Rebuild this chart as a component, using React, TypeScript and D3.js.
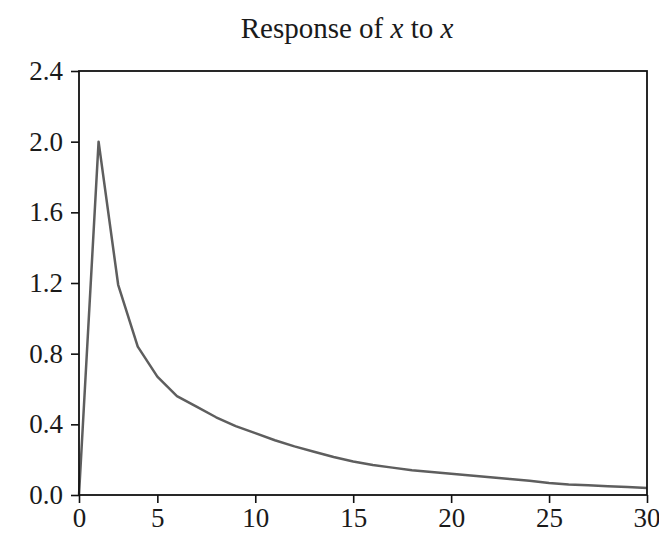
import React, { useEffect, useRef } from "react";
import * as d3 from "d3";

// response of x to x, periods 0..29
const periods = d3.range(30);
const response = [
  0, 2.0, 1.19, 0.84, 0.67, 0.56, 0.5, 0.44, 0.39, 0.35, 0.31, 0.275, 0.245,
  0.215, 0.19, 0.17, 0.155, 0.14, 0.13, 0.12, 0.11, 0.1, 0.09, 0.08, 0.068,
  0.06, 0.055, 0.05, 0.045, 0.04,
];
const xTickPositions = [0, 4, 9, 14, 19, 24, 29];
const xTickLabels = ["0", "5", "10", "15", "20", "25", "30"];
const yTicks = [0, 0.4, 0.8, 1.2, 1.6, 2.0, 2.4];

const App = () => {
  const chartRef = useRef<HTMLDivElement>(null);

  useEffect(() => {
    const W = 659;
    const H = 539;
    const margin = { top: 71, right: 12, bottom: 44, left: 79 };
    const width = W - margin.left - margin.right;
    const height = H - margin.top - margin.bottom;
    const font = "'Liberation Serif', 'Times New Roman', serif";

    d3.select(chartRef.current).selectAll("*").remove();

    const root = d3
      .select(chartRef.current)
      .append("svg")
      .attr("width", W)
      .attr("height", H)
      .style("position", "absolute")
      .style("left", 0)
      .style("top", 0)
      .style("background", "#fff");

    const svg = root
      .append("g")
      .attr("transform", `translate(${margin.left},${margin.top})`);

    const xScale = d3.scaleLinear().domain([0, 29]).range([0, width]);
    const yScale = d3.scaleLinear().domain([0, 2.4]).range([height, 0]);

    // Title
    root
      .append("text")
      .attr("x", 347)
      .attr("y", 38)
      .attr("text-anchor", "middle")
      .style("font-family", font)
      .style("font-size", "29px")
      .attr("fill", "#1a1a1a")
      .call((t) => {
        t.append("tspan").text("Response of ");
        t.append("tspan").attr("font-style", "italic").text("x");
        t.append("tspan").text(" to ");
        t.append("tspan").attr("font-style", "italic").text("x");
      });

    // Axes
    const xAxis = d3
      .axisBottom(xScale)
      .tickValues(xTickPositions)
      .tickFormat((d, i) => xTickLabels[i])
      .tickSizeOuter(0)
      .tickSize(8)
      .tickPadding(5);
    const yAxis = d3
      .axisLeft(yScale)
      .tickValues(yTicks)
      .tickFormat(d3.format(".1f"))
      .tickSizeOuter(0)
      .tickSize(8)
      .tickPadding(8);

    const gx = svg
      .append("g")
      .attr("transform", `translate(0,${height})`)
      .call(xAxis);
    const gy = svg.append("g").call(yAxis);

    [gx, gy].forEach((g) => {
      g.select(".domain").remove();
      g.selectAll("line").attr("stroke", "#111").attr("stroke-width", 1.6);
      g.selectAll("text")
        .style("font-family", font)
        .style("font-size", "27px")
        .attr("fill", "#1a1a1a");
    });

    // keep the last x label inside the page
    gx.selectAll(".tick:last-of-type text").attr("text-anchor", "end").attr("dx", "13px");

    // Line
    const line = d3
      .line<number>()
      .x((d, i) => xScale(periods[i]))
      .y((d) => yScale(d));

    svg
      .append("path")
      .datum(response)
      .attr("fill", "none")
      .attr("stroke", "#5e5e5e")
      .attr("stroke-width", 2.5)
      .attr("stroke-linejoin", "round")
      .attr("d", line);

    // Frame
    svg
      .append("rect")
      .attr("width", width)
      .attr("height", height)
      .attr("fill", "none")
      .attr("stroke", "#111")
      .attr("stroke-width", 1.8);
  }, []);

  return <div ref={chartRef}></div>;
};

export default App;
